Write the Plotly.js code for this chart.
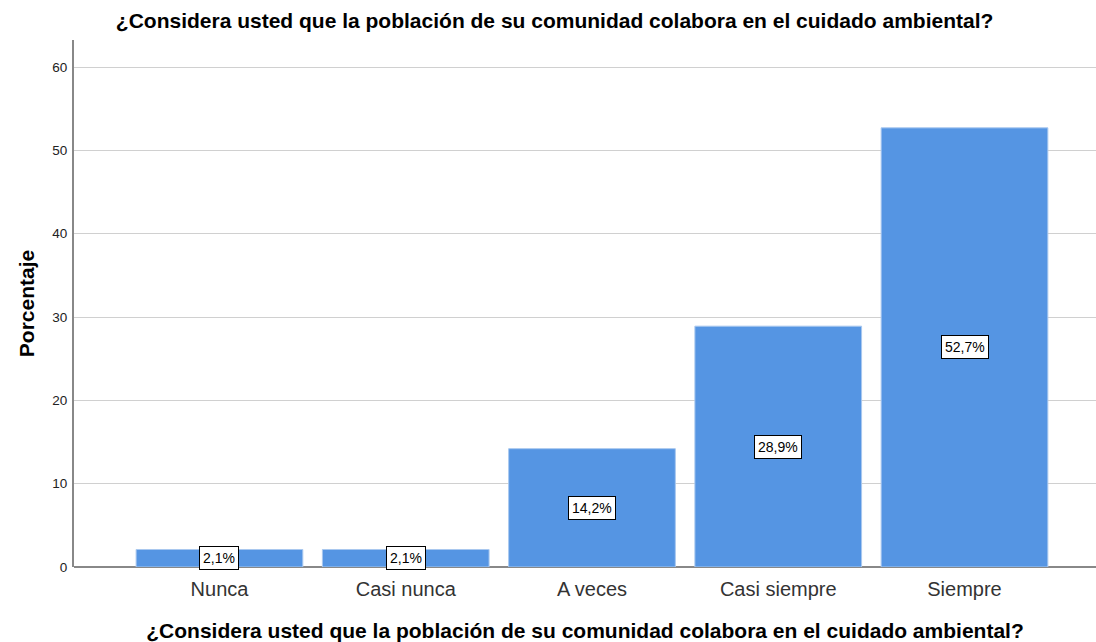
<!DOCTYPE html>
<html>
<head>
<meta charset="utf-8">
<script src="https://cdn.plot.ly/plotly-3.0.1.min.js"></script>
<style>
  html, body { margin: 0; padding: 0; background: #fff; }
  #myDiv { width: 1096px; height: 642px; }
</style>
</head>
<body>
<div id="myDiv"></div>
<script>
var categories = ['Nunca', 'Casi nunca', 'A veces', 'Casi siempre', 'Siempre'];
var percentages = [2.1, 2.1, 14.2, 28.9, 52.7];
var labels = ['2,1%', '2,1%', '14,2%', '28,9%', '52,7%'];

var questionText = '¿Considera usted que la población de su comunidad colabora en el cuidado ambiental?';

var trace = {
  x: categories,
  y: percentages,
  type: 'bar',
  width: 0.895,
  marker: {
    color: '#5595e3',
    line: { color: '#a9c8ef', width: 1 }
  },
  hoverinfo: 'none'
};

// boxed value labels in the middle of each bar
var annotations = categories.map(function (c, i) {
  return {
    x: c,
    y: percentages[i] / 2,
    text: labels[i],
    showarrow: false,
    font: { family: 'Liberation Sans, Arial, sans-serif', size: 14, color: '#000' },
    bgcolor: '#ffffff',
    bordercolor: '#000000',
    borderwidth: 1,
    borderpad: 3
  };
});

var layout = {
  width: 1096,
  height: 642,
  margin: { l: 74, r: 0, t: 40, b: 75 },
  paper_bgcolor: '#ffffff',
  plot_bgcolor: '#ffffff',
  showlegend: false,
  font: { family: 'Liberation Sans, Arial, sans-serif', color: '#000' },
  title: {
    text: '<b>' + questionText + '</b>',
    font: { size: 21, color: '#000' },
    x: 0.506,
    xanchor: 'center',
    y: 0.968,
    yanchor: 'middle',
    yref: 'container'
  },
  xaxis: {
    range: [-0.781, 4.706],
    showgrid: false,
    showline: false,
    zeroline: false,
    ticks: '',
    ticklabelstandoff: 8,
    tickfont: { size: 20, color: '#333' },
    title: {
      text: '<b>' + questionText + '</b>',
      font: { size: 21, color: '#000' },
      standoff: 24
    }
  },
  yaxis: {
    range: [0, 63.24],
    tickvals: [0, 10, 20, 30, 40, 50, 60],
    showgrid: true,
    gridcolor: '#d0d0d0',
    gridwidth: 1,
    showline: true,
    linecolor: '#888',
    linewidth: 2,
    zeroline: true,
    zerolinecolor: '#888',
    zerolinewidth: 2,
    ticks: '',
    ticklabelstandoff: 2,
    tickfont: { size: 13.5, color: '#222' },
    title: {
      text: '<b>Porcentaje</b>',
      font: { size: 21, color: '#000' },
      standoff: 12
    }
  },
  annotations: annotations
};

Plotly.newPlot('myDiv', [trace], layout, { staticPlot: true });
</script>
</body>
</html>
